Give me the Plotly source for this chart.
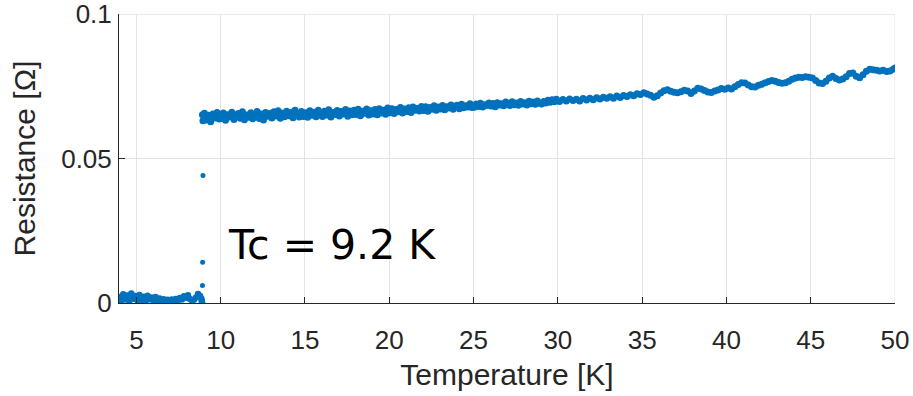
import plotly.graph_objects as go

# ---------------- data ----------------
# superconducting (low) branch
T_low = [3.98, 4.10, 4.22, 4.34, 4.46, 4.58, 4.70, 4.82, 4.94, 5.06, 5.18, 5.30, 5.42, 5.54,
         5.66, 5.78, 5.90, 6.02, 6.14, 6.26, 6.38, 6.50, 6.62, 6.74, 6.86, 6.98, 7.10, 7.22,
         7.34, 7.46, 7.58, 7.70, 7.82, 7.94, 8.06, 8.18, 8.30, 8.42, 8.54, 8.66, 8.78, 8.86,
         8.88, 8.90]
R_low = [0.0021, 0.0008, 0.0030, 0.0012, 0.0026, 0.0006, 0.0033, 0.0015, 0.0024, 0.0009,
         0.0028, 0.0011, 0.0022, 0.0005, 0.0025, 0.0013, 0.0019, 0.0007, 0.0021, 0.0010,
         0.0016, 0.0004, 0.0013, 0.0006, 0.0011, 0.0003, 0.0012, 0.0005, 0.0014, 0.0009,
         0.0017, 0.0012, 0.0023, 0.0018, 0.0027, 0.0014, 0.0008, 0.0011, 0.0019, 0.0031,
         0.0024, 0.0015, 0.0006, 0.0002]

# points inside the transition
T_trans = [8.92, 8.93, 8.95]
R_trans = [0.0061, 0.0141, 0.0442]

# normal-state (upper) branch
T_high = [
    8.92, 8.95,
    9.04, 9.16, 9.29, 9.41, 9.54, 9.66, 9.79, 9.91,
    10.04, 10.16, 10.29, 10.41, 10.54, 10.66, 10.79, 10.91,
    11.04, 11.16, 11.29, 11.41, 11.54, 11.66, 11.79, 11.91,
    12.04, 12.16, 12.29, 12.41, 12.54, 12.66, 12.79, 12.91,
    13.04, 13.16, 13.29, 13.41, 13.54, 13.66, 13.79, 13.91,
    14.04, 14.16, 14.29, 14.41, 14.54, 14.66, 14.79, 14.91,
    15.04, 15.16, 15.29, 15.41, 15.54, 15.66, 15.79, 15.91,
    16.04, 16.16, 16.29, 16.41, 16.54, 16.66, 16.79, 16.91,
    17.04, 17.16, 17.29, 17.41, 17.54, 17.66, 17.79, 17.91,
    18.04, 18.16, 18.29, 18.41, 18.54, 18.66, 18.79, 18.91,
    19.04, 19.16, 19.29, 19.41, 19.54, 19.66, 19.79, 19.91,
    20.04, 20.16, 20.29, 20.41, 20.54, 20.66, 20.79, 20.91,
    21.04, 21.16, 21.29, 21.41, 21.54, 21.66, 21.79, 21.91,
    22.04, 22.16, 22.29, 22.41, 22.54, 22.66, 22.79, 22.91,
    23.04, 23.16, 23.29, 23.41, 23.54, 23.66, 23.79, 23.91,
    24.04, 24.16, 24.29, 24.41, 24.54, 24.66, 24.79, 24.91,
    25.04, 25.16, 25.29, 25.41, 25.54, 25.66, 25.79, 25.91,
    26.04, 26.16, 26.29, 26.41, 26.54, 26.66, 26.79, 26.91,
    27.04, 27.16, 27.29, 27.41, 27.54, 27.66, 27.79, 27.91,
    28.04, 28.16, 28.29, 28.41, 28.54, 28.66, 28.79, 28.91,
    29.04, 29.16, 29.29, 29.41, 29.54, 29.66, 29.79, 29.91,
    30.1, 30.3, 30.5, 30.7, 30.9,
    31.1, 31.3, 31.5, 31.7, 31.9,
    32.1, 32.3, 32.5, 32.7, 32.9,
    33.1, 33.3, 33.5, 33.7, 33.9,
    34.1, 34.3, 34.5, 34.7, 34.9,
    35.1, 35.3, 35.5, 35.7, 35.9,
    36.1, 36.3, 36.5, 36.7, 36.9,
    37.1, 37.3, 37.5, 37.7, 37.9,
    38.1, 38.3, 38.5, 38.7, 38.9,
    39.1, 39.3, 39.5, 39.7, 39.9,
    40.1, 40.3, 40.5, 40.7, 40.9,
    41.1, 41.3, 41.5, 41.7, 41.9,
    42.1, 42.3, 42.5, 42.7, 42.9,
    43.1, 43.3, 43.5, 43.7, 43.9,
    44.1, 44.3, 44.5, 44.7, 44.9,
    45.1, 45.3, 45.5, 45.7, 45.9,
    46.1, 46.3, 46.5, 46.7, 46.9,
    47.1, 47.3, 47.5, 47.7, 47.9,
    48.1, 48.3, 48.5, 48.7, 48.9,
    49.1, 49.3, 49.5, 49.7, 49.9,
    50.0,
]
R_high = [
    0.0652, 0.0631,
    0.0657, 0.0634, 0.0650, 0.0628, 0.0655, 0.0641, 0.0660, 0.0637,
    0.0639, 0.0658, 0.0633, 0.0652, 0.0644, 0.0661, 0.0636, 0.0650,
    0.0656, 0.0640, 0.0662, 0.0635, 0.0651, 0.0643, 0.0659, 0.0638,
    0.0645, 0.0663, 0.0639, 0.0655, 0.0634, 0.0660, 0.0647, 0.0657,
    0.0641, 0.0662, 0.0648, 0.0666, 0.0640, 0.0657, 0.0645, 0.0664,
    0.0649, 0.0660, 0.0642, 0.0668, 0.0651, 0.0644, 0.0663, 0.0646,
    0.0659, 0.0643, 0.0666, 0.0650, 0.0661, 0.0645, 0.0668, 0.0652,
    0.0646, 0.0664, 0.0651, 0.0669, 0.0644, 0.0660, 0.0653, 0.0667,
    0.0648, 0.0663, 0.0655, 0.0670, 0.0647, 0.0665, 0.0652, 0.0668,
    0.0653, 0.0671, 0.0649, 0.0664, 0.0657, 0.0672, 0.0651, 0.0666,
    0.0655, 0.0670, 0.0652, 0.0673, 0.0658, 0.0668, 0.0654, 0.0675,
    0.0659, 0.0673, 0.0656, 0.0670, 0.0662, 0.0677, 0.0658, 0.0672,
    0.0663, 0.0676, 0.0660, 0.0679, 0.0668, 0.0674, 0.0665, 0.0681,
    0.0667, 0.0680, 0.0664, 0.0677, 0.0671, 0.0683, 0.0668, 0.0679,
    0.0672, 0.0684, 0.0669, 0.0680, 0.0675, 0.0686, 0.0671, 0.0682,
    0.0685, 0.0673, 0.0688, 0.0676, 0.0683, 0.0679, 0.0690, 0.0677,
    0.0678, 0.0689, 0.0681, 0.0692, 0.0679, 0.0687, 0.0684, 0.0693,
    0.0682, 0.0691, 0.0680, 0.0694, 0.0686, 0.0690, 0.0683, 0.0696,
    0.0692, 0.0684, 0.0697, 0.0687, 0.0693, 0.0685, 0.0698, 0.0689,
    0.0694, 0.0686, 0.0699, 0.0690, 0.0696, 0.0688, 0.0700, 0.0692,
    0.0689, 0.0698, 0.0693, 0.0702, 0.0695, 0.0704, 0.0697, 0.0706,
    0.0698, 0.0705, 0.0700, 0.0707, 0.0701,
    0.0706, 0.0700, 0.0708, 0.0703, 0.0709,
    0.0704, 0.0711, 0.0707, 0.0713, 0.0709,
    0.0714, 0.0709, 0.0717, 0.0712, 0.0719,
    0.0715, 0.0721, 0.0718, 0.0725, 0.0722,
    0.0728, 0.0724, 0.0720, 0.0713, 0.0718,
    0.0727, 0.0735, 0.0739, 0.0733, 0.0730,
    0.0728, 0.0732, 0.0737, 0.0734, 0.0726,
    0.0734, 0.0744, 0.0741, 0.0736, 0.0731,
    0.0729, 0.0734, 0.0738, 0.0743, 0.0740,
    0.0745, 0.0741, 0.0749, 0.0757, 0.0763,
    0.0762, 0.0755, 0.0749, 0.0748, 0.0754,
    0.0758, 0.0763, 0.0767, 0.0771, 0.0768,
    0.0764, 0.0761, 0.0763, 0.0768, 0.0775,
    0.0779, 0.0782, 0.0781, 0.0784, 0.0782,
    0.0779, 0.0771, 0.0762, 0.0760, 0.0768,
    0.0779, 0.0785, 0.0778, 0.0772, 0.0776,
    0.0784, 0.0795, 0.0797, 0.0785, 0.0780,
    0.0791, 0.0803, 0.0810, 0.0808, 0.0806,
    0.0804, 0.0806, 0.0802, 0.0804, 0.0810,
    0.0814,
]

x_ticks = [5, 10, 15, 20, 25, 30, 35, 40, 45, 50]
y_ticks = [0, 0.05, 0.1]
y_ticktext = ["0", "0.05", "0.1"]
x_max, y_max = 50, 0.1

annotation_text = "Tc = 9.2 K"
annotation_pos = (10.30, 0.0201)

# ---------------- figure ----------------
BLUE = "#0072BD"
AXIS = "#262626"
GRID = "#e3e3e3"

fig = go.Figure()
fig.add_trace(go.Scatter(
    x=T_low, y=R_low, mode="lines+markers",
    line=dict(color=BLUE, width=3.5),
    marker=dict(color=BLUE, size=6.5, line=dict(width=0)),
    showlegend=False, hoverinfo="skip",
))
fig.add_trace(go.Scatter(
    x=T_trans, y=R_trans, mode="markers",
    marker=dict(color=BLUE, size=5, line=dict(width=0)),
    showlegend=False, hoverinfo="skip",
))
fig.add_trace(go.Scatter(
    x=T_high, y=R_high, mode="lines+markers",
    line=dict(color=BLUE, width=3.5),
    marker=dict(color=BLUE, size=7, line=dict(width=0)),
    showlegend=False, hoverinfo="skip",
))

# grid lines on the far edges (top and right), which plotly leaves out
fig.add_shape(type="line", xref="paper", yref="y", x0=0, x1=1, y0=y_max, y1=y_max,
              line=dict(color=GRID, width=1), layer="below")
fig.add_shape(type="line", xref="x", yref="paper", x0=x_max, x1=x_max, y0=0, y1=1,
              line=dict(color=GRID, width=1), layer="below")

fig.add_annotation(
    x=annotation_pos[0], y=annotation_pos[1], xref="x", yref="y",
    text=annotation_text, showarrow=False, xanchor="left", yanchor="middle",
    font=dict(family="DejaVu Sans", size=41, color="#000000"),
)

tick_font = dict(family="Liberation Sans, Arial, sans-serif", size=26, color=AXIS)
title_font = dict(family="Liberation Sans, Arial, sans-serif", size=30, color=AXIS)

fig.update_layout(
    width=913, height=396,
    margin=dict(l=119, r=18, t=14, b=93, autoexpand=False),
    paper_bgcolor="white", plot_bgcolor="white",
    xaxis=dict(
        range=[3.97, 50.0001], tickvals=x_ticks, ticks="inside", ticklen=6, tickwidth=1,
        tickcolor=AXIS, showline=True, linecolor=AXIS, linewidth=1, mirror=False,
        showgrid=True, gridcolor=GRID, gridwidth=1, zeroline=False,
        tickfont=tick_font, ticklabelstandoff=14, ticklabeloverflow="allow",
        title=dict(text="Temperature [K]", font=title_font, standoff=9),
    ),
    yaxis=dict(
        range=[0, 0.1001], tickvals=y_ticks, ticktext=y_ticktext,
        ticks="inside", ticklen=6, tickwidth=1, tickcolor=AXIS, showline=True,
        linecolor=AXIS, linewidth=1, mirror=False, showgrid=True, gridcolor=GRID,
        gridwidth=1, zeroline=False, tickfont=tick_font, ticklabelstandoff=1,
        ticklabeloverflow="allow",
        title=dict(text="Resistance [Ω]", font=title_font, standoff=16),
    ),
)

fig.write_html("out.html", config={"displayModeBar": False},
               post_script="document.body.style.margin='0';")
